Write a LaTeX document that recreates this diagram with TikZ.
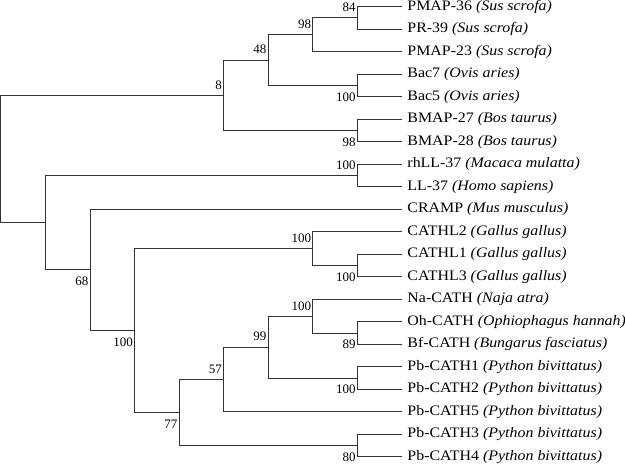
\documentclass[tikz,border=0pt]{standalone}
\usepackage{fontspec}
\setmainfont{Liberation Serif}[FakeStretch=1.1]
\newfontfamily\bootfont{Liberation Serif}
\usepackage{tikz}

\tikzset{
    branch/.style={draw=black!80, line width=1pt},
    leaf/.style={anchor=west, inner xsep=5.5pt, inner ysep=0pt, font=\fontsize{14.5}{16}\selectfont},
    bootup/.style={anchor=east, inner sep=0pt, xshift=-1.5pt, yshift=10.5pt, font=\bootfont\fontsize{13}{14}\selectfont},
    bootdown/.style={anchor=east, inner sep=0pt, xshift=-1.5pt, yshift=-11.5pt, font=\bootfont\fontsize{13}{14}\selectfont}
}

\begin{document}
\begin{tikzpicture}[x=44.6pt, y=-22.55pt]
        \useasboundingbox (-0.0224,-0.297) rectangle (14.0135,20.457);

        \node[leaf] (pmap36) at (9,0) {PMAP-36 \textit{(Sus scrofa)}};
        \node[leaf] (pr39) at (9,1) {PR-39 \textit{(Sus scrofa)}};
        \node[leaf] (pmap23) at (9,2) {PMAP-23 \textit{(Sus scrofa)}};
        \node[leaf] (bac7) at (9,3) {Bac7 \textit{(Ovis aries)}};
        \node[leaf] (bac5) at (9,4) {Bac5 \textit{(Ovis aries)}};
        \node[leaf] (bmap27) at (9,5) {BMAP-27 \textit{(Bos taurus)}};
        \node[leaf] (bmap28) at (9,6) {BMAP-28 \textit{(Bos taurus)}};
        \node[leaf] (rhll37) at (9,7) {rhLL-37 \textit{(Macaca mulatta)}};
        \node[leaf] (ll37) at (9,8) {LL-37 \textit{(Homo sapiens)}};
        \node[leaf] (cramp) at (9,9) {CRAMP \textit{(Mus musculus)}};
        \node[leaf] (cathl2) at (9,10) {CATHL2 \textit{(Gallus gallus)}};
        \node[leaf] (cathl1) at (9,11) {CATHL1 \textit{(Gallus gallus)}};
        \node[leaf] (cathl3) at (9,12) {CATHL3 \textit{(Gallus gallus)}};
        \node[leaf] (nacath) at (9,13) {Na-CATH \textit{(Naja atra)}};
        \node[leaf] (ohcath) at (9,14) {Oh-CATH \textit{(Ophiophagus hannah)}};
        \node[leaf] (bfcath) at (9,15) {Bf-CATH \textit{(Bungarus fasciatus)}};
        \node[leaf] (pb1) at (9,16) {Pb-CATH1 \textit{(Python bivittatus)}};
        \node[leaf] (pb2) at (9,17) {Pb-CATH2 \textit{(Python bivittatus)}};
        \node[leaf] (pb5) at (9,18) {Pb-CATH5 \textit{(Python bivittatus)}};
        \node[leaf] (pb3) at (9,19) {Pb-CATH3 \textit{(Python bivittatus)}};
        \node[leaf] (pb4) at (9,20) {Pb-CATH4 \textit{(Python bivittatus)}};

        \coordinate (sus) at (8,0.5);
        \coordinate (susall) at (7,1.25);
        \coordinate (ovis) at (8,3.5);
        \coordinate (susovis) at (6,2.375);
        \coordinate (bos) at (8,5.5);
        \coordinate (artio) at (5,3.9375);
        \coordinate (primate) at (8,7.5);
        \coordinate (gallus) at (8,11.5);
        \coordinate (gallusall) at (7,10.75);
        \coordinate (elapid) at (8,14.5);
        \coordinate (elapidall) at (7,13.75);
        \coordinate (pyA) at (8,16.5);
        \coordinate (snake) at (6,15.125);
        \coordinate (snakepy) at (5,16.5625);
        \coordinate (pyB) at (8,19.5);
        \coordinate (reptile) at (4,18.03125);
        \coordinate (sauria) at (3,14.390625);
        \coordinate (rodent) at (2,11.6953);
        \coordinate (rest) at (1,9.5977);
        \coordinate (root) at (0,6.7676);

        \draw[branch] (sus) |- (pmap36.west);
        \draw[branch] (sus) |- (pr39.west);
        \draw[branch] (susall) |- (sus);
        \draw[branch] (susall) |- (pmap23.west);
        \draw[branch] (ovis) |- (bac7.west);
        \draw[branch] (ovis) |- (bac5.west);
        \draw[branch] (susovis) |- (susall);
        \draw[branch] (susovis) |- (ovis);
        \draw[branch] (bos) |- (bmap27.west);
        \draw[branch] (bos) |- (bmap28.west);
        \draw[branch] (artio) |- (susovis);
        \draw[branch] (artio) |- (bos);
        \draw[branch] (primate) |- (rhll37.west);
        \draw[branch] (primate) |- (ll37.west);
        \draw[branch] (gallus) |- (cathl1.west);
        \draw[branch] (gallus) |- (cathl3.west);
        \draw[branch] (gallusall) |- (cathl2.west);
        \draw[branch] (gallusall) |- (gallus);
        \draw[branch] (elapid) |- (ohcath.west);
        \draw[branch] (elapid) |- (bfcath.west);
        \draw[branch] (elapidall) |- (nacath.west);
        \draw[branch] (elapidall) |- (elapid);
        \draw[branch] (pyA) |- (pb1.west);
        \draw[branch] (pyA) |- (pb2.west);
        \draw[branch] (snake) |- (elapidall);
        \draw[branch] (snake) |- (pyA);
        \draw[branch] (snakepy) |- (snake);
        \draw[branch] (snakepy) |- (pb5.west);
        \draw[branch] (pyB) |- (pb3.west);
        \draw[branch] (pyB) |- (pb4.west);
        \draw[branch] (reptile) |- (snakepy);
        \draw[branch] (reptile) |- (pyB);
        \draw[branch] (sauria) |- (gallusall);
        \draw[branch] (sauria) |- (reptile);
        \draw[branch] (rodent) |- (cramp.west);
        \draw[branch] (rodent) |- (sauria);
        \draw[branch] (rest) |- (primate);
        \draw[branch] (rest) |- (rodent);
        \draw[branch] (root) |- (artio);
        \draw[branch] (root) |- (rest);

        \node[bootup] at (sus) {84};
        \node[bootup] at (susall) {98};
        \node[bootup] at (susovis) {48};
        \node[bootup] at (artio) {8};
        \node[bootdown] at (ovis) {100};
        \node[bootdown] at (bos) {98};
        \node[bootup] at (primate) {100};
        \node[bootdown] at (rodent) {68};
        \node[bootdown] at (sauria) {100};
        \node[bootup] at (gallusall) {100};
        \node[bootdown] at (gallus) {100};
        \node[bootup] at (elapidall) {100};
        \node[bootdown] at (elapid) {89};
        \node[bootup] at (snake) {99};
        \node[bootdown] at (pyA) {100};
        \node[bootup] at (snakepy) {57};
        \node[bootdown] at (reptile) {77};
        \node[bootdown] at (pyB) {80};
\end{tikzpicture}
\end{document}
